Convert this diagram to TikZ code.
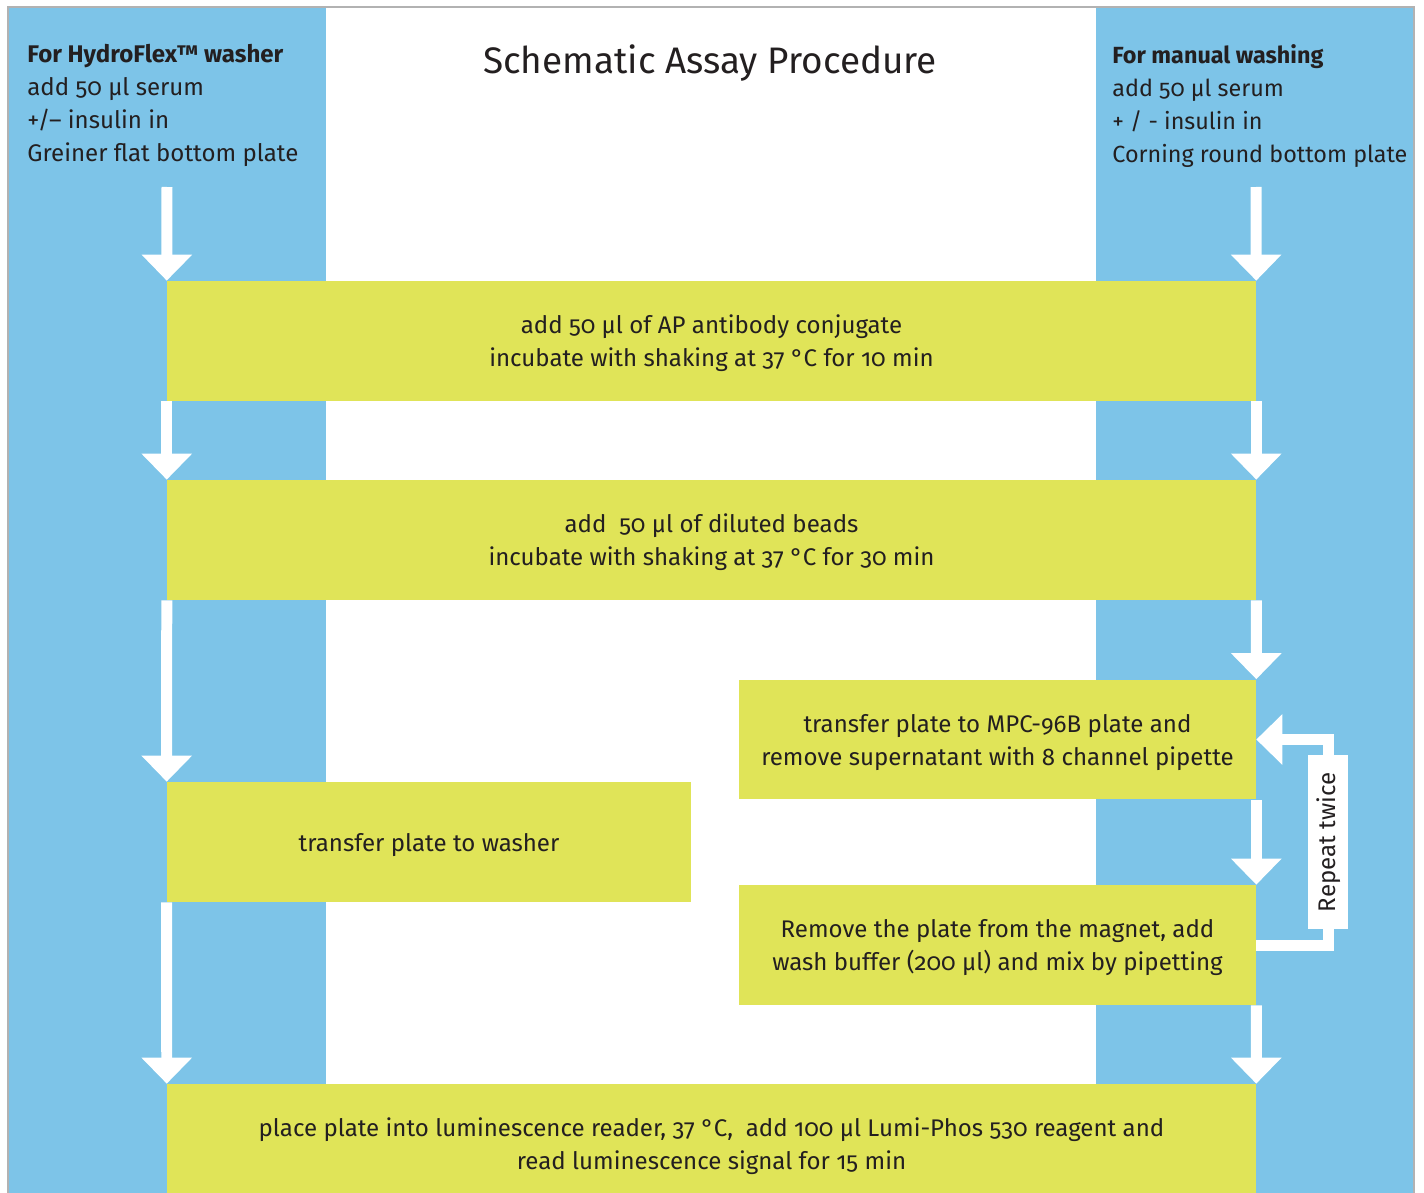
\documentclass[tikz,border=0pt]{standalone}
\usepackage{fontspec}
\setmainfont[RawFeature={+onum}]{Fira Sans}
\usetikzlibrary{arrows.meta}
\definecolor{colblue}{HTML}{7DC4E8}
\definecolor{boxyellow}{HTML}{E0E458}
\definecolor{inkgray}{HTML}{231F20}
\begin{document}
\begin{tikzpicture}[x=0.02cm, y=-0.02cm,
  stepbox/.style={fill=boxyellow, inner sep=0pt, minimum height=2.4cm, align=center,
    text depth=0pt, text=inkgray, font=\fontsize{13.7}{18.8}\selectfont},
  headtext/.style={anchor=north west, align=left, inner sep=0pt, text=inkgray,
    font=\fontsize{13.7}{18.8}\selectfont},
  replabel/.style={fill=white, rotate=90, inner sep=0pt, minimum width=3.48cm,
    minimum height=0.8cm, text=inkgray, font=\fontsize{13.7}{15}\selectfont},
  flow/.style={white, line width=0.22cm, -{Triangle[width=0.98cm,length=0.52cm]}}]
\clip (0,0) rectangle (1424,1193);
% lanes
\fill[colblue] (8,8) rectangle (326,1193);
\fill[colblue] (1096,8) rectangle (1414,1193);
\draw[gray!60, line width=0.04cm] (8,1193) |- (1414,7) -- (1414,1193);
% headings
\node[text=inkgray, font=\fontsize{21}{25}\selectfont] (title) at (710,63) {Schematic Assay Procedure};
\node[headtext] (hdrL) at (27,44)
    {\textbf{For HydroFlex™ washer}\\add 50 µl serum\\+/– insulin in\\Greiner flat bottom plate};
\node[headtext, font=\fontsize{13.3}{18.8}\selectfont] (hdrR) at (1112,44)
    {\textbf{For manual washing}\\add 50 µl serum\\+ / - insulin in\\Corning round bottom plate};
% steps
\node[stepbox, minimum width=21.78cm] (conj) at (711.5,341)
    {add 50 µl of AP antibody conjugate\\incubate with shaking at 37 °C for 10 min};
\node[stepbox, minimum width=21.78cm] (beads) at (711.5,540)
    {add\ \ 50 µl of diluted beads\\incubate with shaking at 37 °C for 30 min};
\node[stepbox, minimum width=10.34cm] (magnet) at (997.5,739.5)
    {transfer plate to MPC-96B plate and\\remove supernatant with 8 channel pipette};
\node[stepbox, minimum width=10.48cm] (washer) at (429,842)
    {transfer plate to washer};
\node[stepbox, minimum width=10.34cm] (rinse) at (997.5,945)
    {Remove the plate from the magnet, add\\wash buffer (200 µl) and mix by pipetting};
\node[stepbox, minimum width=21.78cm] (reader) at (711.5,1144)
    {place plate into luminescence reader, 37 °C,\ \ add 100 µl Lumi-Phos 530 reagent and\\read luminescence signal for 15 min};
% arrows
\coordinate (topL) at (167,187);
\coordinate (topR) at (1256,187);
\draw[flow] (topL) -- (conj.north west);
\draw[flow] (conj.south west) -- (beads.north west);
\draw[flow] (beads.south west) -- (washer.north west);
\draw[flow] (washer.south west) -- (reader.north west);
\draw[flow] (topR) -- (conj.north east);
\draw[flow] (conj.south east) -- (beads.north east);
\draw[flow] (beads.south east) -- (magnet.north east);
\draw[flow] (magnet.south east) -- (rinse.north east);
\draw[flow] (rinse.south east) -- (reader.north east);
\draw[flow] (rinse.east) -- ++(72,0) |- node[pos=0.25, replabel] {Repeat twice} (magnet.east);
\end{tikzpicture}
\end{document}
